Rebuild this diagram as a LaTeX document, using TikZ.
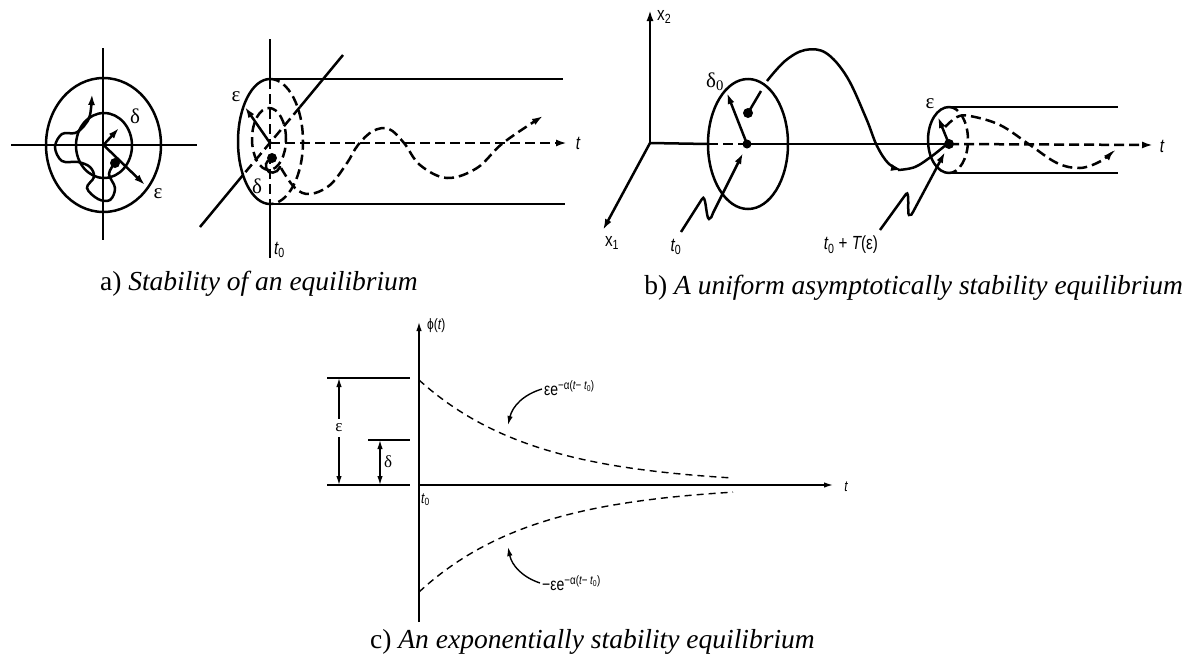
\documentclass[tikz,border=0pt]{standalone}
\usepackage{fontspec}
\setmainfont{Liberation Serif}
\newfontfamily\lsans{Liberation Sans}
\usetikzlibrary{arrows.meta}
\newcommand\nrw[1]{\scalebox{0.8}[1]{#1}}
\tikzset{
  ln/.style={line width=2.5pt},
  dsh/.style={line width=2.5pt, dash pattern=on 10pt off 5pt},
  arr/.style={-{Latex[length=11pt,width=7pt]}},
  thinln/.style={line width=1.4pt},
  thindsh/.style={line width=1.4pt, dash pattern=on 7pt off 5pt},
  tarr/.style={-{Latex[length=9pt,width=5.5pt]}},
  lab/.style={font=\lsans\fontsize{19}{19}\selectfont, inner sep=0pt},
  smlab/.style={font=\lsans\fontsize{15}{15}\selectfont, inner sep=0pt},
  explab/.style={font=\lsans\fontsize{17.5}{17.5}\selectfont, inner sep=0pt},
  grk/.style={font=\fontsize{21}{21}\selectfont, inner sep=0pt},
  captxt/.style={font=\fontsize{27.5}{27.5}\selectfont, inner sep=0pt},
  blackdot/.style={fill=black}
}
\begin{document}
\begin{tikzpicture}[x=1pt,y=-1pt]
\useasboundingbox (0,0) rectangle (1189,662);
\fill[white] (0,0) rectangle (1189,662);
% ================= panel a, left =================
\coordinate (A0) at (103.5,145);
\draw[ln] (11,145) -- (197,145);
\draw[ln] (103,48) -- (103,240);
\draw[ln] (A0) ellipse [x radius=57.5pt, y radius=67pt];
\draw[ln] (104,145.5) ellipse [x radius=28pt, y radius=32.5pt];
\coordinate (Ad) at (119,128);
\coordinate (Ae) at (145,185);
\draw[ln,arr] (A0) -- (Ad);
\draw[ln,arr] (A0) -- (Ae);
\node[grk] (Adl) at (135,116) {δ};
\node[grk] (Ael) at (158,194) {ε};
\fill[blackdot] (115,163) circle (5pt);
\draw[ln,arr] plot[smooth,tension=0.6] coordinates {(115,163) (109,174) (115,188) (110,200) (98,199) (87,188) (94,177) (90,167) (78,162) (62,161) (55,147) (62,134) (75,133) (84,126) (90,115) (92,94)};
% ================= panel a, right =================
\coordinate (B0) at (270,143);
\draw[ln] (270,39) -- (270,79);
\draw[dsh] (270,79) -- (270,204);
\draw[ln] (270,204) -- (270,258);
\draw[ln] (343,55) -- (300,107);
\draw[dsh] (300,107) -- (243,175);
\draw[ln] (243,175) -- (200,227);
\draw[ln] (270,79) -- (563,79);
\draw[ln] (270,204) -- (565,204);
\draw[ln] (270,79) arc[start angle=90, end angle=270, x radius=32pt, y radius=62.5pt];
\draw[dsh] (270,79) arc[start angle=90, end angle=-90, x radius=33pt, y radius=62.5pt];
\draw[dsh] (269,139) ellipse [x radius=17pt, y radius=31pt];
\draw[dsh,arr] (B0) -- (567,143);
\node[lab] (Bt) at (578,143) {\nrw{\itshape t}};
\draw[ln,arr] (B0) -- (245,107);
\node[grk] (Bel) at (236,97) {ε};
\node[grk] (Bdl) at (257,186) {δ};
\fill[blackdot] (272,158) circle (5pt);
\draw[ln] plot[smooth,tension=0.8] coordinates {(272,158) (266,164) (269,172) (277,171) (280,166)};
\draw[dsh,arr] plot[smooth,tension=0.6] coordinates {(281,168) (295,188) (310,194) (330,185) (347,163) (358,145) (373,131) (389,129) (404,143) (420,165) (447,178) (477,168) (503,143) (543,116)};
\node[lab,anchor=west] (Bt0) at (274,250) {\nrw{\itshape t\textsubscript{\upshape 0}}};
% ================= panel b =================
\coordinate (O) at (650,143);
\draw[ln,arr] (O) -- (650,10);
\node[lab,anchor=west] (x2) at (657,17) {\nrw{x\textsubscript{2}}};
\draw[ln,arr] (O) -- (603,230);
\node[lab] (x1) at (612,243) {\nrw{x\textsubscript{1}}};
\draw[ln] (O) -- (708,144);
\draw[dsh] (708,144) -- (747,144);
\draw[ln] (747,144) -- (949,144);
\draw[dsh,arr] (949,144) -- (1153,145);
\node[lab] (Ct) at (1162,146) {\nrw{\itshape t}};
\coordinate (C1) at (748,144);
\draw[ln] (C1) ellipse [x radius=40pt, y radius=65pt];
\fill[blackdot] (747,144) circle (4.5pt);
\draw[ln,arr] (747,144) -- (727,93);
\node[grk] (d0) at (715,82) {δ\textsubscript{0}};
\fill[blackdot] (748,113) circle (5pt);
\draw[ln] (748,113) -- (761,91);
\draw[ln,arr] plot[smooth,tension=0.6] coordinates {(767,81) (785,61) (805,50) (826,53) (847,77) (866,118) (877,146) (889,164) (902,170)};
\draw[ln] plot[smooth,tension=0.6] coordinates {(898,170) (915,167) (932,156) (947,144)};
% t0 annotation
\node[lab] (bt0) at (676,247) {\nrw{\itshape t\textsubscript{\upshape 0}}};
\draw[ln,arr] (681,232) -- (702,199) .. controls (706,192) and (706,219) .. (709,219) .. controls (711,219) and (712,216) .. (713,213) -- (743,153);
% second ellipse
\draw[ln] (949,107) -- (1118,107);
\draw[ln] (949,173) -- (1118,173);
\draw[ln] (949,173) arc[start angle=270, end angle=90, x radius=21pt, y radius=33pt];
\draw[dsh] (949,107) arc[start angle=90, end angle=-90, x radius=19pt, y radius=33pt];
\fill[blackdot] (949,144) circle (5pt);
\draw[ln,arr] (949,144) -- (938,117);
\node[grk] (be) at (930,104) {ε};
\draw[dsh,arr] plot[smooth,tension=0.6] coordinates {(945,127) (957,117) (970,116) (1000,125) (1030,145) (1057,163) (1080,168) (1101,161) (1114,150)};
\node[lab] (bT) at (851,245) {\nrw{\itshape t\textsubscript{\upshape 0} \upshape + \itshape T\upshape (ε)}};
\draw[ln,arr] (880,230) -- (906,194) .. controls (910,189) and (907,214) .. (909,215) .. controls (911,216) and (912,214) .. (913,212) -- (945,152);
% ================= panel c =================
\coordinate (P0) at (419,485);
\draw[thinln,tarr] (419,622) -- (419,322);
\node[smlab,anchor=west] (phi) at (427,326) {\nrw{ϕ(\itshape t\upshape )}};
\draw[thinln,tarr] (P0) -- (833,485);
\node[smlab] (ct) at (846,487) {\nrw{\itshape t}};
\node[smlab,anchor=west] (ct0) at (421,500) {\nrw{\itshape t\textsubscript{\upshape 0}}};
\draw[thindsh,domain=419:733,samples=80] plot (\x,{485-105*exp(-0.00862*(\x-419))});
\draw[thindsh,domain=419:733,samples=80] plot (\x,{485+107*exp(-0.00862*(\x-419))});
\draw[thinln] (327,378) -- (410,378);
\draw[thinln] (327,485) -- (410,485);
\draw[thinln] (368,440) -- (410,440);
\node[font=\fontsize{17}{17}\selectfont, inner sep=0pt] (ce) at (339,428) {ε};
\draw[thinln,tarr] (ce.north) ++(0,-5) -- (339,378);
\draw[thinln,tarr] (ce.south) ++(0,5) -- (339,485);
\draw[thinln,{Latex[length=9pt,width=5.5pt]}-{Latex[length=9pt,width=5.5pt]}] (380,440) -- (380,485);
\node[font=\fontsize{17}{17}\selectfont, inner sep=0pt, anchor=west] (cd) at (384,462) {δ};
\node[explab,anchor=west] (up) at (544,388) {\nrw{εe\textsuperscript{−α(\itshape t\upshape − \itshape t\textsubscript{\upshape 0}\upshape )}}};
\draw[thinln,tarr] (up.west) ++(-2,1) to[bend right=30] (508,425);
\node[explab,anchor=west] (lo) at (542,583) {\nrw{−εe\textsuperscript{−α(\itshape t\upshape − \itshape t\textsubscript{\upshape 0}\upshape )}}};
\draw[thinln,tarr] (lo.west) ++(-2,0) to[bend left=30] (508,547);
% ================= captions =================
\node[captxt,anchor=base east] (capa) at (418,290) {a) \textit{Stability of an equilibrium}};
\node[captxt,anchor=base east] (capb) at (1183,294) {b) \textit{A uniform asymptotically stability equilibrium}};
\node[captxt,anchor=base west] (capc) at (370,648) {c) \textit{An exponentially stability equilibrium}};
\end{tikzpicture}
\end{document}
